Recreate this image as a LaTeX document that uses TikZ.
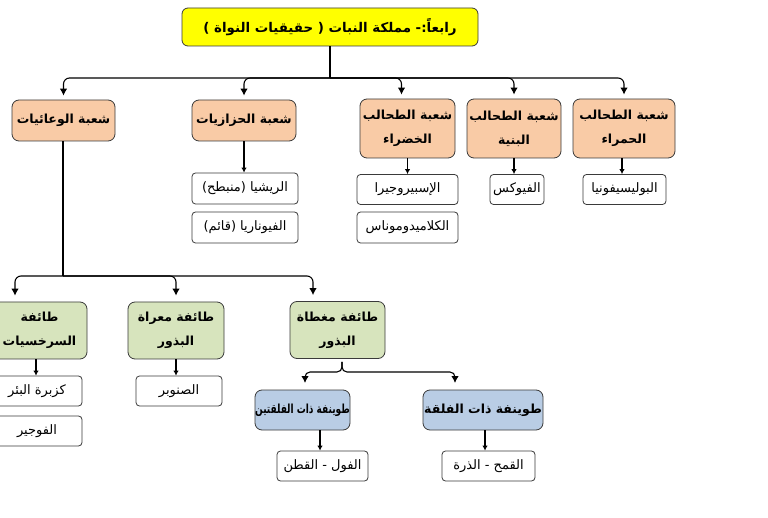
\documentclass[tikz,border=0pt]{standalone}
\usepackage{fontspec}
\newfontfamily\arabicfont[Script=Arabic]{DejaVu Sans}
\TeXXeTstate=1
\usetikzlibrary{arrows.meta}
\newcommand\ar[1]{\beginR #1\endR}
\definecolor{titlefill}{HTML}{FFFF00}
\definecolor{orangefill}{HTML}{F9CBA6}
\definecolor{greenfill}{HTML}{D7E4BD}
\definecolor{bluefill}{HTML}{B9CDE5}
\definecolor{edgecol}{HTML}{3A3A3A}
\begin{document}
\begin{tikzpicture}[x=1pt,y=-1pt,
  box/.style={draw=edgecol, line width=0.8pt, align=center, inner sep=0pt},
  titlebox/.style={box, fill=titlefill, rounded corners=6pt, font=\arabicfont\bfseries\fontsize{13.4}{16}\selectfont},
  catbox/.style={box, rounded corners=7pt, font=\arabicfont\bfseries\fontsize{12.5}{24}\selectfont},
  orangebox/.style={catbox, fill=orangefill},
  greenbox/.style={catbox, fill=greenfill},
  bluebox/.style={catbox, fill=bluefill},
  leafbox/.style={box, fill=white, rounded corners=3.5pt, font=\arabicfont\fontsize{13}{15}\selectfont},
  conn/.style={line width=1.1pt, draw=black},
  arr/.style={conn, -{Latex[length=7pt,width=7.5pt]}},
  smallarr/.style={conn, -{Latex[length=5pt,width=5.5pt]}}
]
\useasboundingbox (0,0) rectangle (768,518);

% title
\node[titlebox, minimum width=296pt, minimum height=38pt] (title) at (330,27) {\ar{رابعاً:- مملكة النبات ( حقيقيات النواة )}};

% divisions
\node[orangebox, minimum width=103pt, minimum height=41pt] (vasc) at (63.5,120.5) {\ar{شعبة الوعائيات}};
\node[orangebox, minimum width=104pt, minimum height=41pt] (moss) at (244,120.5) {\ar{شعبة الحزازيات}};
\node[orangebox, minimum width=95pt, minimum height=59pt] (greenalg) at (407.5,128.5) {\ar{شعبة الطحالب}\\\ar{الخضراء}};
\node[orangebox, minimum width=94pt, minimum height=59pt] (brownalg) at (514,128.5) {\ar{شعبة الطحالب}\\\ar{البنية}};
\node[orangebox, minimum width=102pt, minimum height=59pt] (redalg) at (624,128.5) {\ar{شعبة الطحالب}\\\ar{الحمراء}};

% leaves of divisions
\node[leafbox, minimum width=106pt, minimum height=31pt] (riccia) at (245,188.5) {\ar{الريشيا (منبطح)}};
\node[leafbox, minimum width=106pt, minimum height=31pt] (funaria) at (245,227.5) {\ar{الفيوناريا (قائم)}};
\node[leafbox, minimum width=101pt, minimum height=30pt] (spiro) at (407.5,189.5) {\ar{الإسبيروجيرا}};
\node[leafbox, minimum width=101pt, minimum height=31pt] (chlamy) at (407.5,227.5) {\ar{الكلاميدوموناس}};
\node[leafbox, minimum width=54pt, minimum height=30pt] (fucus) at (517,189.5) {\ar{الفيوكس}};
\node[leafbox, minimum width=83pt, minimum height=30pt] (poly) at (624.5,189.5) {\ar{البوليسيفونيا}};

% classes
\node[greenbox, minimum width=95pt, minimum height=57pt] (fern) at (39.5,330.5) {\ar{طائفة}\\\ar{السرخسيات}};
\node[greenbox, minimum width=96pt, minimum height=57pt] (gymno) at (176,330.5) {\ar{طائفة معراة}\\\ar{البذور}};
\node[greenbox, minimum width=95pt, minimum height=57pt] (angio) at (337.5,330) {\ar{طائفة مغطاة}\\\ar{البذور}};

\node[leafbox, minimum width=90pt, minimum height=30pt] (adiantum) at (37,391) {\ar{كزبرة البئر}};
\node[leafbox, minimum width=90pt, minimum height=30pt] (fougere) at (37,431) {\ar{الفوجير}};
\node[leafbox, minimum width=86pt, minimum height=30pt] (pine) at (179,391) {\ar{الصنوبر}};

% subclasses
\node[bluebox, minimum width=95pt, minimum height=40pt] (dicot) at (302.5,410) {\scalebox{0.72}[1]{\ar{طوينفة ذات الفلقتين}}};
\node[bluebox, minimum width=120pt, minimum height=40pt] (monocot) at (483,410) {\ar{طوينفة ذات الفلقة}};

\node[leafbox, minimum width=91pt, minimum height=30pt] (dleaf) at (322.5,466) {\ar{الفول - القطن}};
\node[leafbox, minimum width=93pt, minimum height=30pt] (mleaf) at (488.5,466) {\ar{القمح - الذرة}};

% top bus
\coordinate (bus) at (title.south |- 0,78);
\draw[conn] (title.south) -- (bus);
\foreach \c in {vasc,moss,brownalg,redalg}
  \draw[arr, rounded corners=6pt, shorten >=4pt] (bus) -| (\c.north);
\draw[arr, rounded corners=6pt, shorten >=4pt] (bus) -| ([xshift=-6pt]greenalg.north);

% division -> leaves
\draw[smallarr] (moss.south) -- (moss.south |- riccia.north);
\draw[smallarr] (greenalg.south) -- (greenalg.south |- spiro.north);
\draw[smallarr] (brownalg.south) -- (brownalg.south |- fucus.north);
\draw[smallarr] ([xshift=-2pt]redalg.south) -- ([xshift=-2pt]redalg.south |- poly.north);

% vascular bus
\coordinate (vbus) at ([xshift=-0.5pt]vasc.south |- 0,276);
\draw[conn] ([xshift=-0.5pt]vasc.south) -- (vbus);
\draw[arr, rounded corners=6pt, shorten >=6pt] (vbus) -| ([xshift=-24.5pt]fern.north);
\draw[arr, rounded corners=6pt, shorten >=6pt] (vbus) -| (gymno.north);
\draw[arr, rounded corners=6pt, shorten >=6pt] (vbus) -| ([xshift=-24.5pt]angio.north);

% classes -> leaves
\draw[smallarr] ([xshift=-3.5pt]fern.south) -- ([xshift=-3.5pt]fern.south |- adiantum.north);
\draw[smallarr] (gymno.south) -- (gymno.south |- pine.north);

% brace
\coordinate (btip) at ([xshift=4.5pt,yshift=-3pt]angio.south);
\coordinate (bmid) at (btip |- 0,372);
\draw[arr, rounded corners=5pt, shorten >=2pt] (btip) -- (bmid) -- (305,372) -- (305,385);
\draw[arr, rounded corners=5pt, shorten >=2pt] (btip) -- (bmid) -- (455,372) -- (455,385);

% subclasses -> leaves
\draw[smallarr] ([xshift=17.5pt]dicot.south) -- ([xshift=17.5pt]dicot.south |- dleaf.north);
\draw[smallarr] ([xshift=2pt]monocot.south) -- ([xshift=2pt]monocot.south |- mleaf.north);
\end{tikzpicture}
\end{document}
